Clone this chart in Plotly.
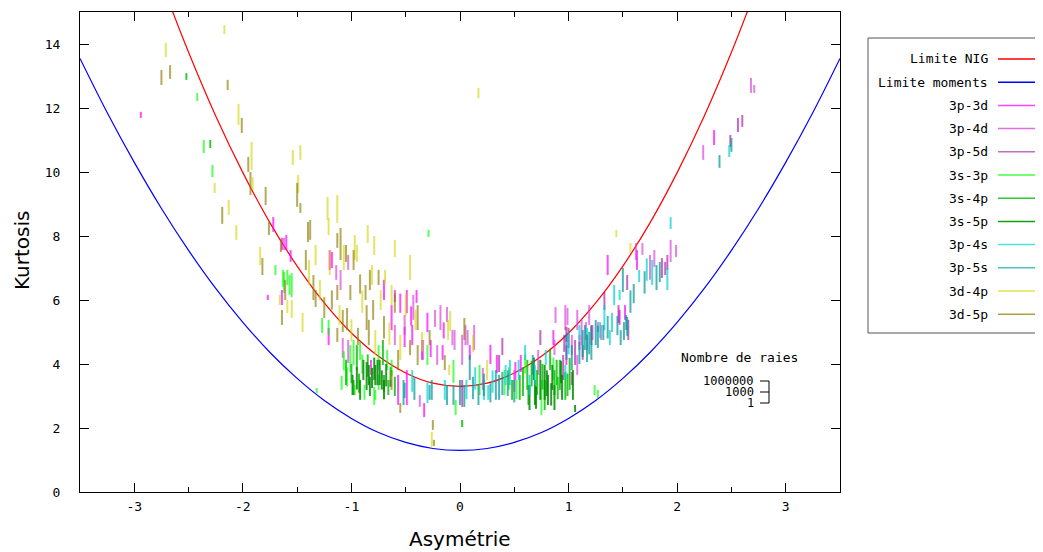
import plotly.graph_objects as go

# ---------------- data ----------------
# limit curves
blue_skew = [-3.5, -3.25, -3.0, -2.75, -2.5, -2.25, -2.0, -1.75, -1.5, -1.25, -1.0, -0.75, -0.5, -0.25, 0.0,
             0.25, 0.5, 0.75, 1.0, 1.25, 1.5, 1.75, 2.0, 2.25, 2.5, 2.75, 3.0, 3.25, 3.5]
blue_kurt = [13.55, 11.86, 10.30, 8.86, 7.55, 6.36, 5.30, 4.36, 3.55, 2.86, 2.30, 1.86, 1.55, 1.36, 1.30,
             1.36, 1.55, 1.86, 2.30, 2.86, 3.55, 4.36, 5.30, 6.36, 7.55, 8.86, 10.30, 11.86, 13.55]
red_skew = [-2.75, -2.5, -2.25, -2.0, -1.75, -1.5, -1.25, -1.0, -0.75, -0.5, -0.25, 0.0,
            0.25, 0.5, 0.75, 1.0, 1.25, 1.5, 1.75, 2.0, 2.25, 2.5, 2.75]
red_kurt = [15.93, 13.74, 11.75, 9.98, 8.41, 7.06, 5.91, 4.97, 4.24, 3.72, 3.40, 3.30,
            3.40, 3.72, 4.24, 4.97, 5.91, 7.06, 8.41, 9.98, 11.75, 13.74, 15.93]

# transitions: (skewness, kurtosis low end, kurtosis high end)
seg_3p3d = [(-2.94, 11.69, 11.88), (-1.72, 8.13, 8.59), (-1.64, 7.56, 7.94), (-1.60, 7.56, 8.03),
            (-1.56, 7.19, 7.56), (-1.77, 6.0, 6.16), (-1.20, 6.94, 7.56), (-1.18, 7.0, 7.5),
            (-1.64, 5.84, 6.31), (-1.21, 4.59, 5.13), (-0.82, 3.66, 4.13), (-0.64, 3.28, 3.5),
            (-0.57, 2.72, 3.66), (-0.49, 2.72, 3.81), (-0.60, 5.94, 6.31), (-0.49, 5.59, 6.31),
            (-0.40, 5.91, 6.31), (-0.63, 5.06, 5.84), (-0.51, 4.53, 5.16), (-0.44, 4.59, 5.22),
            (-0.27, 4.22, 4.75), (-0.35, 4.13, 4.75), (-0.16, 4.13, 4.59), (0.34, 3.72, 4.28),
            (0.51, 3.5, 4.06), (0.56, 3.75, 4.28), (0.86, 4.59, 5.06), (0.98, 3.97, 4.59),
            (1.36, 6.78, 7.41), (1.47, 5.22, 5.69), (1.52, 5.38, 5.84), (2.34, 10.84, 11.31),
            (-0.33, 2.34, 2.78), (0.09, 4.13, 4.59), (-0.70, 6.0, 6.63), (1.63, 6.94, 7.56),
            (-0.45, 5.2, 5.8), (-0.30, 5.0, 5.6), (-0.15, 4.8, 5.3), (0.28, 4.0, 4.6), (-0.55, 5.6, 6.2)]
seg_3p4d = [(-1.62, 7.56, 7.94), (-1.14, 6.63, 7.09), (-1.03, 6.94, 7.41), (-1.08, 4.19, 4.81),
            (-1.03, 4.03, 4.75), (-1.10, 6.31, 6.94), (-0.37, 2.66, 3.03), (-0.34, 4.13, 4.75),
            (-0.21, 3.97, 4.59), (-0.23, 5.16, 5.69), (-0.18, 5.06, 5.84), (-0.12, 5.31, 5.78),
            (-0.05, 4.44, 5.06), (-0.60, 4.59, 5.22), (-0.07, 4.59, 5.06), (0.05, 4.59, 5.22),
            (0.07, 4.59, 5.06), (0.13, 4.44, 5.22), (0.02, 3.97, 4.91), (0.21, 3.19, 3.88),
            (0.50, 3.13, 3.81), (0.72, 3.66, 4.44), (0.87, 4.28, 4.75), (0.88, 5.28, 5.78),
            (1.03, 4.28, 4.91), (1.10, 4.44, 4.91), (1.16, 4.75, 5.31), (1.27, 5.0, 5.31),
            (1.08, 5.06, 5.69), (0.97, 5.06, 5.84), (0.99, 5.22, 5.75), (1.19, 5.22, 5.84),
            (1.30, 4.75, 5.22), (1.22, 4.75, 5.22), (1.12, 4.59, 5.38), (1.08, 3.66, 4.28),
            (1.62, 7.25, 7.78), (1.68, 7.41, 7.78), (1.75, 6.63, 7.41), (1.79, 7.03, 7.56),
            (1.94, 7.19, 7.88), (1.99, 7.34, 7.72), (2.24, 10.38, 10.84), (2.68, 12.47, 12.94),
            (2.71, 12.47, 12.72), (-0.43, 5.38, 6.16), (-0.51, 4.91, 5.53)]
seg_3p5d = [(0.39, 4.28, 4.81), (0.95, 3.5, 4.28), (0.96, 4.38, 4.91), (0.98, 4.69, 5.16),
            (1.00, 4.5, 5.13), (1.21, 4.59, 5.22), (1.13, 4.13, 4.59), (1.06, 3.97, 4.75),
            (1.03, 3.34, 3.75), (1.55, 4.75, 5.38), (1.54, 6.31, 6.78), (1.33, 5.69, 6.25),
            (1.89, 6.78, 7.19), (1.86, 6.69, 7.31), (1.91, 6.94, 7.41), (2.56, 11.25, 11.69),
            (2.60, 11.41, 11.78), (2.49, 10.78, 11.16), (0.02, 2.66, 3.5), (1.46, 5.28, 5.84),
            (0.74, 4.59, 5.06), (0.36, 3.75, 4.28)]
seg_3s3p = [(-2.42, 12.22, 12.47), (-2.36, 10.59, 11.0), (-2.28, 9.84, 10.22), (-1.70, 6.78, 7.09),
            (-1.62, 6.22, 6.88), (-1.57, 6.16, 6.78), (-1.55, 6.09, 6.84), (-1.63, 6.41, 6.94),
            (-1.59, 6.47, 6.94), (-1.27, 4.97, 5.44), (-1.21, 4.91, 5.38), (-1.01, 3.75, 4.59),
            (-0.98, 3.97, 4.75), (-0.92, 4.13, 4.69), (-0.75, 3.81, 4.59), (-0.67, 3.81, 4.44),
            (-0.97, 3.03, 3.34), (-1.09, 3.19, 3.63), (-0.88, 2.88, 3.34), (-0.78, 2.88, 3.19),
            (-0.79, 2.72, 3.28), (-0.75, 3.19, 3.66), (-0.63, 3.63, 4.13), (-0.30, 3.97, 4.59),
            (-0.06, 3.41, 4.13), (0.18, 3.03, 3.97), (-0.04, 2.41, 2.88), (1.24, 3.03, 3.34),
            (1.27, 2.94, 3.19), (-0.29, 7.97, 8.19), (-1.32, 3.09, 3.25), (0.41, 3.03, 3.81),
            (0.75, 2.41, 3.5), (-1.07, 3.8, 4.4), (-1.04, 3.3, 3.9), (-0.90, 3.7, 4.3),
            (0.45, 3.2, 3.9), (0.52, 2.9, 3.5), (0.60, 3.7, 4.3), (0.86, 3.5, 4.2)]
seg_3s4p = [(-2.52, 12.88, 13.09), (-2.30, 10.75, 11.0), (-0.95, 3.81, 4.59), (-0.71, 3.97, 4.75),
            (0.62, 3.19, 4.13), (0.63, 2.72, 3.34), (0.71, 3.03, 3.81), (0.83, 3.81, 4.44),
            (0.87, 3.03, 3.81), (0.89, 3.34, 4.13), (0.92, 3.19, 4.13), (1.01, 3.19, 4.19),
            (-0.98, 3.03, 3.5), (-0.70, 3.13, 3.66), (-0.66, 3.03, 3.5), (0.02, 2.03, 2.25),
            (-1.05, 3.34, 4.13), (0.55, 2.88, 3.66), (0.78, 2.56, 3.5), (0.97, 2.88, 3.75),
            (0.48, 2.88, 3.5), (-1.0, 3.4, 4.0), (-0.93, 3.1, 3.7), (-0.85, 3.6, 4.3),
            (-0.64, 3.3, 3.9), (-0.60, 3.0, 3.6), (0.58, 3.0, 3.9), (0.66, 3.3, 4.1),
            (0.76, 3.2, 4.0), (0.90, 2.9, 3.6), (0.99, 3.0, 3.7)]
seg_3s5p = [(-0.89, 3.5, 4.13), (-0.86, 3.19, 4.06), (-0.84, 3.34, 3.97), (-0.81, 3.25, 3.88),
            (-0.78, 3.34, 3.97), (-0.76, 3.34, 4.13), (-0.74, 3.34, 4.13), (-0.99, 3.03, 3.66),
            (-0.92, 2.88, 3.5), (0.74, 2.88, 4.13), (0.78, 2.88, 3.97), (0.81, 2.72, 3.66),
            (0.85, 3.19, 3.97), (1.04, 2.88, 3.81), (1.06, 2.5, 2.72), (0.69, 2.72, 3.5),
            (0.87, 2.56, 3.34), (0.94, 2.88, 3.66), (0.64, 2.56, 3.34), (-0.95, 3.2, 3.9),
            (-0.83, 3.0, 3.6), (-0.79, 3.5, 4.2), (-0.72, 3.2, 3.8), (-0.70, 2.9, 3.5),
            (-0.68, 3.3, 4.0), (0.70, 2.6, 3.3), (0.80, 3.0, 3.8), (0.84, 2.7, 3.4),
            (0.93, 3.4, 4.1), (0.68, 3.5, 4.2)]
seg_3p4s = [(1.94, 8.22, 8.59), (2.48, 10.47, 10.84), (1.77, 6.47, 7.25), (1.65, 6.56, 6.94),
            (1.47, 6.0, 6.31), (1.33, 5.06, 5.84), (1.29, 4.81, 5.31), (1.38, 4.59, 5.06),
            (1.10, 4.75, 5.22), (0.97, 3.5, 3.97), (1.17, 4.44, 5.13), (0.42, 3.34, 3.97),
            (0.46, 3.34, 4.13), (0.54, 3.5, 4.13), (0.69, 3.34, 3.97), (0.60, 4.13, 4.59),
            (0.22, 2.88, 3.5), (0.26, 2.88, 3.34), (-0.14, 2.88, 3.5), (-0.44, 3.13, 3.81),
            (-0.30, 2.78, 3.41), (0.64, 3.03, 3.66), (1.42, 5.84, 6.47), (0.79, 3.97, 4.44),
            (1.91, 6.31, 7.0), (0.06, 2.9, 3.5), (0.30, 3.1, 3.8), (0.14, 3.2, 3.9),
            (1.00, 4.3, 5.0), (1.40, 5.0, 5.6), (1.72, 6.6, 7.3)]
seg_3p5s = [(2.50, 10.63, 11.06), (2.39, 10.13, 10.53), (1.81, 6.31, 7.09), (1.84, 6.56, 7.19),
            (1.50, 6.25, 7.0), (1.53, 5.06, 5.53), (1.48, 4.59, 5.06), (1.51, 4.75, 5.31),
            (1.54, 4.88, 5.47), (1.15, 4.44, 5.22), (1.13, 4.22, 5.06), (1.17, 4.06, 4.91),
            (1.21, 4.13, 5.16), (0.98, 4.13, 4.91), (1.03, 3.81, 4.59), (1.32, 4.75, 5.22),
            (0.09, 3.5, 4.28), (-0.06, 2.72, 3.34), (0.0, 2.72, 3.5), (0.04, 2.66, 3.34),
            (-0.12, 2.72, 3.34), (0.17, 2.72, 3.34), (0.33, 2.88, 3.81), (0.36, 2.88, 3.66),
            (0.39, 3.03, 3.75), (0.67, 3.66, 4.28), (-0.52, 2.72, 3.5), (-0.51, 2.94, 3.41),
            (-0.42, 2.88, 3.59), (-0.28, 2.88, 3.34), (-0.26, 2.88, 3.5), (1.25, 4.59, 5.38),
            (0.12, 2.9, 3.6), (0.22, 3.0, 3.7), (0.28, 2.8, 3.4), (0.44, 3.0, 3.8), (0.50, 2.8, 3.5),
            (1.10, 4.0, 4.7), (1.19, 4.3, 5.0), (1.27, 4.5, 5.2), (1.36, 4.8, 5.5), (1.45, 4.9, 5.5),
            (1.57, 5.6, 6.3), (1.60, 5.9, 6.5), (1.70, 6.2, 6.9)]
seg_3d4p = [(-2.17, 14.31, 14.59), (-2.71, 13.59, 14.03), (-2.04, 11.47, 12.13), (-1.92, 10.06, 10.94),
            (-1.54, 10.22, 10.69), (-1.47, 10.38, 10.84), (-2.26, 9.34, 9.66), (-2.13, 8.66, 9.13),
            (-1.91, 9.44, 9.84), (-2.06, 7.88, 8.34), (-1.49, 9.34, 9.91), (-1.22, 8.5, 9.22),
            (-1.13, 8.41, 9.28), (-1.21, 8.03, 8.56), (-1.84, 7.09, 7.66), (-1.39, 6.47, 7.25),
            (-1.33, 7.09, 7.72), (-1.20, 6.78, 7.56), (-1.07, 6.94, 7.72), (-0.95, 7.19, 7.72),
            (-0.85, 7.78, 8.34), (-0.79, 7.41, 8.0), (-0.60, 7.34, 7.88), (-1.66, 5.84, 6.16),
            (-1.55, 5.44, 6.0), (-1.59, 5.59, 6.0), (-1.29, 6.0, 6.63), (-1.11, 5.22, 5.84),
            (-0.78, 4.28, 5.06), (-0.73, 5.69, 6.31), (-0.69, 6.47, 6.94), (-0.81, 6.47, 7.09),
            (-0.55, 4.13, 4.91), (-0.41, 5.06, 5.69), (-0.11, 4.75, 5.38), (-0.09, 5.03, 5.66),
            (-0.10, 3.66, 3.97), (0.25, 3.5, 4.13), (0.12, 4.38, 4.91), (-0.26, 1.41, 1.88),
            (0.17, 12.31, 12.63), (1.44, 7.97, 8.19), (1.57, 7.47, 7.78), (-0.63, 5.84, 6.47),
            (-0.97, 7.25, 8.03), (-0.46, 6.63, 7.41), (-0.90, 5.6, 6.3), (-0.65, 4.6, 5.3),
            (-0.50, 5.5, 6.2), (-0.35, 4.4, 5.0), (-1.00, 4.7, 5.4), (-1.45, 5.0, 5.6)]
seg_3d5p = [(-2.67, 12.91, 13.34), (-2.75, 12.72, 13.19), (-2.14, 12.56, 12.88), (-2.01, 11.22, 11.69),
            (-1.95, 10.0, 10.47), (-2.19, 8.38, 8.91), (-1.93, 9.28, 10.0), (-1.79, 8.97, 9.53),
            (-1.76, 8.03, 8.44), (-1.50, 8.91, 9.66), (-1.47, 8.72, 9.03), (-1.40, 7.81, 8.44),
            (-1.38, 7.88, 8.5), (-1.82, 6.78, 7.31), (-1.65, 7.5, 7.88), (-1.42, 6.94, 7.56),
            (-1.35, 6.0, 6.78), (-1.13, 7.63, 8.09), (-1.10, 7.25, 8.25), (-1.05, 7.19, 7.72),
            (-0.98, 6.94, 7.56), (-1.13, 6.0, 6.47), (-1.01, 6.0, 6.47), (-1.64, 5.22, 5.69),
            (-1.61, 6.0, 6.63), (-1.33, 5.78, 6.31), (-1.25, 5.44, 6.09), (-1.13, 4.69, 5.13),
            (-1.08, 5.0, 5.69), (-1.04, 5.06, 5.75), (-0.94, 4.59, 5.13), (-0.87, 6.0, 6.47),
            (-0.86, 5.06, 5.84), (-0.84, 4.59, 5.38), (-0.80, 5.38, 6.0), (-0.75, 6.47, 6.94),
            (-0.83, 6.31, 6.94), (-0.63, 3.19, 3.81), (-0.57, 3.81, 4.44), (-0.46, 4.28, 4.75),
            (-0.39, 3.97, 4.59), (-0.39, 5.06, 5.84), (-0.28, 4.59, 5.06), (-0.25, 1.94, 2.25),
            (-0.24, 1.44, 1.63), (-0.55, 2.47, 2.78), (-0.14, 3.81, 4.28), (0.04, 4.75, 5.44),
            (-0.70, 4.8, 5.5), (-0.60, 5.6, 6.2), (-0.92, 6.2, 6.8), (-1.18, 5.7, 6.3)]

series_names = ["3p-3d", "3p-4d", "3p-5d", "3s-3p", "3s-4p", "3s-5p", "3p-4s", "3p-5s", "3d-4p", "3d-5p"]
series_segs = [seg_3p3d, seg_3p4d, seg_3p5d, seg_3s3p, seg_3s4p, seg_3s5p, seg_3p4s, seg_3p5s, seg_3d4p, seg_3d5p]
series_colors = ["rgba(255,0,255,0.7)", "rgba(215,60,215,0.65)", "rgba(160,0,160,0.6)",
                 "rgba(0,255,0,0.65)", "rgba(0,190,0,0.8)", "rgba(0,140,0,0.85)",
                 "rgba(0,210,210,0.7)", "rgba(0,150,150,0.7)", "rgba(210,210,0,0.6)",
                 "rgba(140,125,0,0.65)"]
legend_names = ["Limite NIG", "Limite moments"] + series_names
legend_colors = ["#ff0000", "#0000ff", "#ff44ff", "#e070e0", "#c070c0", "#44ff44", "#30c830",
                 "#10a010", "#50e0e0", "#50c0c0", "#e0e050", "#b0a040"]

x_ticks = [-3, -2, -1, 0, 1, 2, 3]
x_ticktext = ["-3", "-2", "-1", "0", "1", "2", "3"]
y_ticks = [0, 2, 4, 6, 8, 10, 12, 14]
size_key_labels = ["1000000", "1000", "1"]

MONO = "DejaVu Sans Mono"

fig = go.Figure()
fig.add_trace(go.Scatter(x=red_skew, y=red_kurt, mode="lines", line=dict(color="#ff0000", width=1.2, shape="spline"),
                         showlegend=False, hoverinfo="skip"))
fig.add_trace(go.Scatter(x=blue_skew, y=blue_kurt, mode="lines", line=dict(color="#0000ff", width=1.2, shape="spline"),
                         showlegend=False, hoverinfo="skip"))

for name, segs, col in zip(series_names, series_segs, series_colors):
    xs, ys = [], []
    for s, lo, hi in segs:
        xs += [s, s, None]
        ys += [lo, hi, None]
    fig.add_trace(go.Scatter(x=xs, y=ys, mode="lines", name=name, line=dict(color=col, width=2),
                             showlegend=False, connectgaps=False))

# page has an 8px body margin; geometry below is expressed in reference-screen pixels
OFF = 8
FIG_W, FIG_H = 1035, 544
L, T, W, H = 72, 4, 760, 480


def px(xp):
    return (xp - OFF - L) / W


def py(yp):
    return (T + H - (yp - OFF)) / H


shapes = []
annotations = []
# legend box
shapes.append(dict(type="rect", xref="paper", yref="paper", x0=px(868), x1=px(1041), y0=py(333), y1=py(38),
                   line=dict(color="#555555", width=1), fillcolor="white"))
for i, (nm, col) in enumerate(zip(legend_names, legend_colors)):
    yrow = 59 + i * 23.2
    annotations.append(dict(xref="paper", yref="paper", x=px(990), y=py(yrow), text=nm, showarrow=False,
                            xanchor="right", yanchor="middle", font=dict(family=MONO, size=13, color="black")))
    shapes.append(dict(type="line", xref="paper", yref="paper", x0=px(998), x1=px(1038), y0=py(yrow), y1=py(yrow),
                       line=dict(color=col, width=1.5)))

# size key
annotations.append(dict(xref="paper", yref="paper", x=px(739), y=py(357), text="Nombre de raies", showarrow=False,
                        xanchor="center", yanchor="middle", font=dict(family=MONO, size=13, color="black")))
for lab, yk in zip(size_key_labels, [381, 392, 403]):
    annotations.append(dict(xref="paper", yref="paper", x=px(756), y=py(yk), text=lab, showarrow=False,
                            xanchor="right", yanchor="middle", font=dict(family=MONO, size=12, color="black")))
    shapes.append(dict(type="line", xref="paper", yref="paper", x0=px(760), x1=px(769), y0=py(yk), y1=py(yk),
                       line=dict(color="black", width=1)))
shapes.append(dict(type="line", xref="paper", yref="paper", x0=px(769), x1=px(769), y0=py(381), y1=py(403),
                   line=dict(color="black", width=1)))

# axis titles
annotations.append(dict(xref="paper", yref="paper", x=px(22), y=py(250), text="Kurtosis", showarrow=False,
                        textangle=-90, xanchor="center", yanchor="middle",
                        font=dict(family="DejaVu Sans", size=20, color="black")))
annotations.append(dict(xref="paper", yref="paper", x=px(460), y=py(539), text="Asymétrie", showarrow=False,
                        xanchor="center", yanchor="middle",
                        font=dict(family="DejaVu Sans", size=20, color="black")))

fig.update_layout(
    width=FIG_W, height=FIG_H,
    margin=dict(l=L, r=FIG_W - L - W, t=T, b=FIG_H - T - H),
    paper_bgcolor="white", plot_bgcolor="white",
    showlegend=False,
    shapes=shapes, annotations=annotations,
    xaxis=dict(range=[-3.5, 3.5], tickvals=x_ticks, ticktext=x_ticktext, ticks="inside", ticklen=9,
               tickcolor="black", showline=True, linecolor="black", linewidth=1, mirror="allticks",
               showgrid=False, zeroline=False, ticklabelstandoff=2,
               tickfont=dict(family=MONO, size=13, color="black"),
               minor=dict(tickvals=[-3.0, -2.5, -1.5, -0.5, 0.5, 1.5, 2.5], ticks="inside", ticklen=5,
                          tickcolor="black", showgrid=False)),
    yaxis=dict(range=[0, 15], tickvals=y_ticks, ticks="inside", ticklen=9, tickcolor="black",
               showline=True, linecolor="black", linewidth=1, mirror="allticks", showgrid=False,
               zeroline=False, ticklabelstandoff=16,
               tickfont=dict(family=MONO, size=13, color="black")),
)

fig.write_html("out.html")
